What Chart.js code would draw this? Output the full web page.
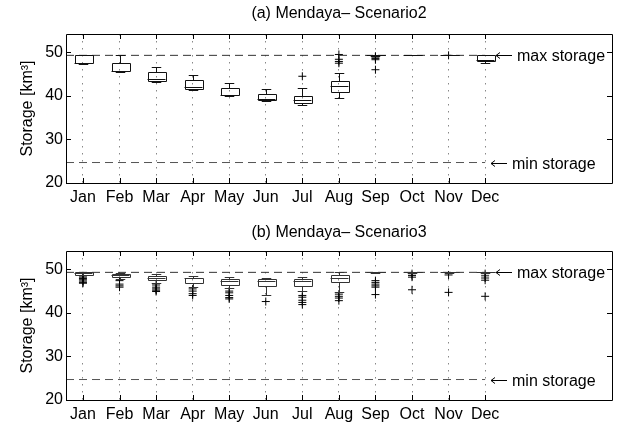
<!DOCTYPE html>
<html>
<head>
<meta charset="utf-8">
<script src="https://cdn.jsdelivr.net/npm/chart.js@4.4.0/dist/chart.umd.min.js"></script>
<style>
  body { margin: 0; background: #fff; }
  .wrap { position: absolute; left: 0; width: 617px; }
</style>
</head>
<body>
<div class="wrap" style="top:0;height:212px"><canvas id="chartA"></canvas></div>
<div class="wrap" style="top:212px;height:213px"><canvas id="chartB"></canvas></div>
<script>
const months = ['Jan', 'Feb', 'Mar', 'Apr', 'May', 'Jun', 'Jul', 'Aug', 'Sep', 'Oct', 'Nov', 'Dec'];
const yTicks = [20, 30, 40, 50];
const maxStorage = 49.3;
const minStorage = 24.7;

// (a) Scenario2 box stats
const s2Low  = [47.2, 45.4, 43.2, 41.4, 39.9, 38.9, 37.9, 39.5, 49.2, 49.3, 49.3, 47.5];
const s2Q1   = [47.5, 45.6, 43.4, 41.6, 40.1, 39.1, 38.4, 41.0, 49.3, 49.3, 49.3, 48.1];
const s2Med  = [47.6, 45.8, 43.8, 42.0, 40.3, 39.3, 39.1, 42.3, 49.3, 49.3, 49.3, 48.3];
const s2Q3   = [49.3, 47.5, 45.4, 43.6, 41.8, 40.4, 39.9, 43.4, 49.3, 49.3, 49.3, 49.3];
const s2High = [49.3, 49.3, 46.7, 44.7, 43.0, 41.6, 41.7, 45.2, 49.3, 49.3, 49.3, 49.3];
const s2Out  = [[], [], [], [], [], [], [44.5], [49.5, 48.4, 47.9, 47.5], [49.1, 48.9, 48.6, 48.3, 46.0], [], [49.3], []];

// (b) Scenario3 box stats
const s3Low  = [48.6, 47.8, 46.9, 45.9, 45.6, 44.0, 45.0, 44.8, 49.1, 49.2, 49.2, 49.2];
const s3Q1   = [48.8, 48.3, 47.6, 46.9, 46.4, 46.1, 46.2, 47.0, 49.3, 49.3, 49.3, 49.3];
const s3Med  = [49.1, 48.7, 48.0, 47.9, 47.4, 47.2, 47.2, 47.9, 49.3, 49.3, 49.3, 49.3];
const s3Q3   = [49.3, 49.0, 48.5, 48.1, 47.8, 47.8, 47.8, 48.8, 49.3, 49.3, 49.3, 49.3];
const s3High = [49.3, 49.2, 48.9, 48.5, 48.3, 48.0, 48.3, 49.3, 49.3, 49.3, 49.3, 49.3];
const s3Out  = [
  [48.5, 48.2, 47.9, 47.6, 47.3, 47.0, 46.8],
  [47.4, 46.6, 46.2, 45.9],
  [46.4, 45.9, 45.5, 45.2, 44.9],
  [45.5, 45.0, 44.4, 44.0],
  [45.0, 44.6, 44.0, 43.5, 43.2],
  [42.6],
  [44.0, 43.6, 42.9, 42.4, 41.9],
  [44.3, 43.8, 43.4, 42.8],
  [47.4, 47.0, 46.6, 46.2, 45.9, 44.2],
  [49.0, 48.6, 48.2, 45.3],
  [48.7, 44.7],
  [49.0, 48.5, 48.0, 47.5, 43.8]
];

const FONT = '"Liberation Sans", Arial, Helvetica, sans-serif';

// draws frame, inward ticks, boxes, title and annotations
const boxPlugin = {
  id: 'boxes',
  afterDatasetsDraw(chart, args, opts) {
    const ctx = chart.ctx;
    const xs = chart.scales.x;
    const ys = chart.scales.y;
    const a = chart.chartArea;
    const unit = xs.getPixelForValue(2) - xs.getPixelForValue(1);
    const hw = 0.245 * unit;
    const cw = 0.13 * unit;
    const r = v => Math.round(v) + 0.5;

    ctx.save();
    ctx.lineWidth = 1;
    ctx.strokeStyle = opts.boxColor;
    for (let i = 0; i < months.length; i++) {
      const x = r(xs.getPixelForValue(i + 1));
      const yLo = r(ys.getPixelForValue(opts.low[i]));
      const yQ1 = r(ys.getPixelForValue(opts.q1[i]));
      const yMed = r(ys.getPixelForValue(opts.med[i]));
      const yQ3 = r(ys.getPixelForValue(opts.q3[i]));
      const yHi = r(ys.getPixelForValue(opts.high[i]));
      ctx.beginPath();
      // box
      ctx.rect(Math.round(x - hw) + 0.5, yQ3, Math.round(2 * hw), yQ1 - yQ3);
      // median
      ctx.moveTo(x - hw, yMed); ctx.lineTo(x + hw, yMed);
      // whiskers
      if (yHi < yQ3) {
        ctx.moveTo(x, yQ3); ctx.lineTo(x, yHi);
        ctx.moveTo(x - cw, yHi); ctx.lineTo(x + cw, yHi);
      }
      if (yLo > yQ1) {
        ctx.moveTo(x, yQ1); ctx.lineTo(x, yLo);
        ctx.moveTo(x - cw, yLo); ctx.lineTo(x + cw, yLo);
      }
      ctx.stroke();
    }

    // axes frame + inward ticks
    ctx.strokeStyle = '#000';
    ctx.beginPath();
    ctx.rect(r(a.left), r(a.top), Math.round(a.right - a.left), Math.round(a.bottom - a.top));
    yTicks.forEach(v => {
      const y = r(ys.getPixelForValue(v));
      ctx.moveTo(a.left, y); ctx.lineTo(a.left + 5, y);
      ctx.moveTo(a.right, y); ctx.lineTo(a.right - 5, y);
    });
    months.forEach((m, i) => {
      const x = r(xs.getPixelForValue(i + 1));
      ctx.moveTo(x, a.bottom); ctx.lineTo(x, a.bottom - 5);
      ctx.moveTo(x, a.top); ctx.lineTo(x, a.top + 5);
    });
    ctx.stroke();

    // annotations: arrow + label
    ctx.fillStyle = '#000';
    ctx.font = '16px ' + FONT;
    ctx.textBaseline = 'middle';
    ctx.textAlign = 'left';
    [[12.3, maxStorage, 'max storage'], [12.15, minStorage, 'min storage']].forEach(([xv, yv, label]) => {
      const x0 = Math.round(xs.getPixelForValue(xv));
      const y0 = r(ys.getPixelForValue(yv));
      ctx.beginPath();
      ctx.moveTo(x0, y0); ctx.lineTo(x0 + 16, y0);
      ctx.moveTo(x0 + 4, y0 - 3); ctx.lineTo(x0, y0); ctx.lineTo(x0 + 4, y0 + 3);
      ctx.stroke();
      ctx.fillText(label, x0 + 21, y0 + 1);
    });

    // title
    ctx.font = '16px ' + FONT;
    ctx.textAlign = 'center';
    ctx.fillText(opts.title, (a.left + a.right) / 2, opts.titleY);
    ctx.restore();
  }
};

function outlierPoints(out) {
  const pts = [];
  out.forEach((vals, i) => vals.forEach(v => pts.push({ x: i + 1, y: v })));
  return pts;
}

function makeChart(id, cfg) {
  return new Chart(document.getElementById(id), {
    type: 'scatter',
    data: {
      datasets: [
        {
          type: 'line',
          data: [{ x: 0.536, y: maxStorage }, { x: 12, y: maxStorage }],
          borderColor: '#333',
          borderWidth: 1,
          borderDash: [8, 5],
          pointRadius: 0
        },
        {
          type: 'line',
          data: [{ x: 0.536, y: minStorage }, { x: 12, y: minStorage }],
          borderColor: '#555',
          borderWidth: 1,
          borderDash: [8, 5],
          pointRadius: 0
        },
        {
          data: outlierPoints(cfg.out),
          pointStyle: 'cross',
          pointRadius: 4,
          borderColor: '#000',
          borderWidth: 1
        }
      ]
    },
    options: {
      responsive: true,
      maintainAspectRatio: false,
      animation: false,
      layout: { padding: { top: cfg.top, right: 4, left: 0, bottom: 0 } },
      scales: {
        x: {
          type: 'linear',
          min: 0.536,
          max: 15.47,
          afterBuildTicks: s => { s.ticks = months.map((m, i) => ({ value: i + 1 })); },
          afterFit: s => { s.height = cfg.xHeight; },
          ticks: {
            callback: v => months[v - 1],
            color: '#000',
            font: { family: FONT, size: 16 },
            padding: 5,
            maxRotation: 0,
            autoSkip: false
          },
          grid: { color: '#888', lineWidth: 1, drawTicks: false },
          border: { display: false, dash: [1.5, 5.5] }
        },
        y: {
          min: 20,
          max: 54.2,
          afterBuildTicks: s => { s.ticks = yTicks.map(v => ({ value: v })); },
          afterFit: s => { s.width = 66; },
          ticks: {
            color: '#000',
            font: { family: FONT, size: 16 },
            padding: 3
          },
          grid: { display: false, drawTicks: false },
          border: { display: false },
          title: {
            display: true,
            text: 'Storage [km\u00b3]',
            color: '#000',
            font: { family: FONT, size: 16 },
            padding: { top: 18, bottom: 0 }
          }
        }
      },
      plugins: {
        legend: { display: false },
        tooltip: { enabled: false },
        boxes: cfg.box
      }
    },
    plugins: [boxPlugin]
  });
}

makeChart('chartA', {
  top: 34,
  xHeight: 29,
  out: s2Out,
  box: { title: '(a) Mendaya\u2013 Scenario2', titleY: 14, boxColor: '#111',
         low: s2Low, q1: s2Q1, med: s2Med, q3: s2Q3, high: s2High }
});

makeChart('chartB', {
  top: 39,
  xHeight: 25,
  out: s3Out,
  box: { title: '(b) Mendaya\u2013 Scenario3', titleY: 21, boxColor: '#333',
         low: s3Low, q1: s3Q1, med: s3Med, q3: s3Q3, high: s3High }
});
</script>
</body>
</html>
